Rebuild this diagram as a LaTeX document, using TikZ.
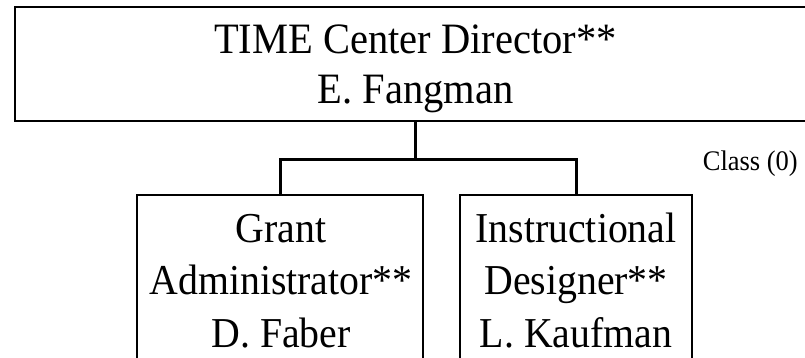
\documentclass[tikz,border=0pt]{standalone}
\usepackage{fontspec}
\setmainfont{Liberation Serif}
\begin{document}
\begin{tikzpicture}[x=1pt,y=-1pt,
  orgbox/.style={draw=black, line width=1.6pt, rectangle, inner sep=0pt, outer sep=0pt},
  conn/.style={draw=black, line width=3pt, line join=miter},
  bigtext/.style={align=center, inner sep=0pt, anchor=base, yscale=1.07, transform shape, font=\fontsize{40.5}{46}\selectfont},
  subtext/.style={align=center, inner sep=0pt, anchor=base, yscale=1.07, transform shape, font=\fontsize{39.8}{49}\selectfont},
  smalltext/.style={inner sep=0pt, anchor=base east, yscale=1.07, transform shape, font=\fontsize{26.5}{30}\selectfont}]
\clip (0,0) rectangle (805,357);
% boxes
\node[orgbox, minimum width=801pt, minimum height=114pt] (dir) at (415.5,64) {};
\node[orgbox, minimum width=286pt, minimum height=200pt] (ga) at (280,295) {};
\node[orgbox, minimum width=232pt, minimum height=200pt] (id) at (576,295) {};
% texts
\node[bigtext] (dirtext) at (415.5,103) {TIME Center Director**\\E. Fangman};
\node[subtext] (gatext) at (281,347) {Grant\\Administrator**\\D. Faber};
\node[subtext] (idtext) at (576,347) {Instructional\\Designer**\\L. Kaufman};
\node[smalltext] (cls) at (798,170) {Class (0)};
% connectors
\coordinate (j) at (dir.south |- 0,159);
\draw[conn] (dir.south) -- (j);
\draw[conn] (ga.north) |- (j) -| (id.north);
\end{tikzpicture}
\end{document}
